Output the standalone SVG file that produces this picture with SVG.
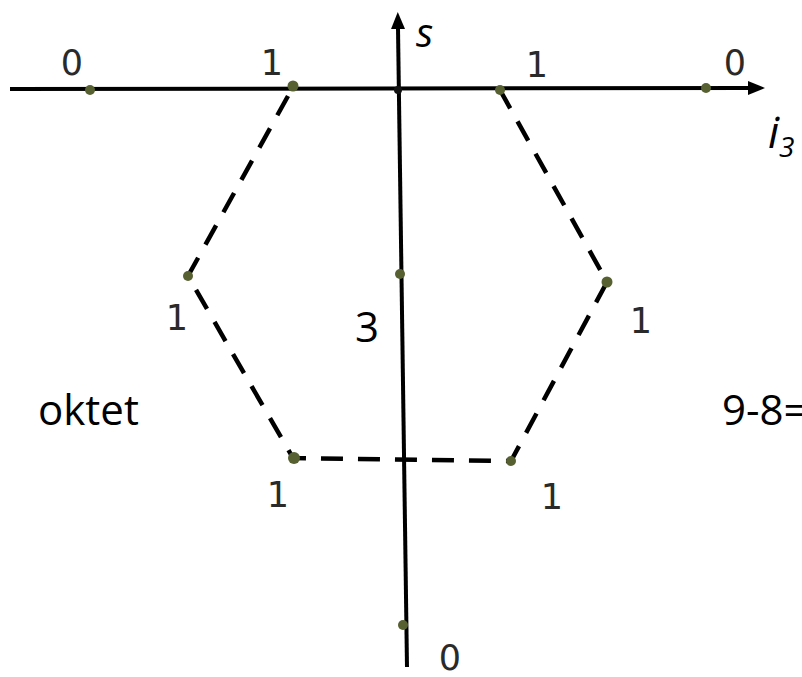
<svg xmlns="http://www.w3.org/2000/svg" width="802" height="677" viewBox="0 0 802 677">
<style>
.axis{stroke:#000;stroke-width:4;fill:none}
.dash{stroke:#000;stroke-width:4.5;fill:none;stroke-dasharray:22 15}
.dot{fill:#566030}
.lbl{font-family:"DejaVu Sans","Open Sans",sans-serif;font-size:35px;fill:#2a2a2a;text-anchor:middle}
.big{font-family:"Open Sans","DejaVu Sans",sans-serif;font-size:42px;fill:#000}
.it{font-family:"Open Sans","DejaVu Sans",sans-serif;font-style:italic;fill:#000}
</style>
<defs>
<marker id="arr" markerWidth="18" markerHeight="16" refX="1" refY="8" orient="auto" markerUnits="userSpaceOnUse">
<path d="M0,1 L17,8 L0,15 Z" fill="#000"/>
</marker>
</defs>
<rect width="802" height="677" fill="#fff"/>
<g id="connectors">
<line class="axis" x1="10" y1="89" x2="749" y2="88" marker-end="url(#arr)"/>
<line class="axis" x1="407" y1="667" x2="398" y2="28" marker-end="url(#arr)"/>
<path class="dash" d="M288,96 L188,276 L293,458 L511,461 L607,282 L500,90"/>
</g>
<g id="points">
<circle class="dot" cx="90" cy="90" r="5"/>
<circle class="dot" cx="293" cy="86" r="5.5"/>
<circle class="dot" cx="500" cy="90" r="5"/>
<circle class="dot" cx="706" cy="88" r="5"/>
<circle cx="398" cy="90" r="4" fill="#111"/>
<circle class="dot" cx="400" cy="274" r="5"/>
<circle class="dot" cx="188" cy="276" r="5"/>
<circle class="dot" cx="607" cy="282" r="5.5"/>
<circle class="dot" cx="294" cy="458" r="6"/>
<circle class="dot" cx="511" cy="461" r="5"/>
<circle class="dot" cx="403" cy="625" r="5"/>
</g>
<g id="labels">
<text class="lbl" x="72" y="75">0</text>
<text class="lbl" x="272" y="75">1</text>
<text class="lbl" x="537" y="77">1</text>
<text class="lbl" x="735" y="75">0</text>
<text class="lbl" x="177" y="330">1</text>
<text class="lbl" x="641" y="333">1</text>
<text class="lbl" x="278" y="507">1</text>
<text class="lbl" x="552" y="509">1</text>
<text class="lbl" x="450" y="670">0</text>
<text class="big" x="367" y="342" text-anchor="middle">3</text>
<text class="big" x="38" y="425">oktet</text>
<text class="big" x="722" y="425">9-8=</text>
<text class="it" x="416" y="47" font-size="40">s</text>
<text class="it" x="768" y="148" font-size="44">i<tspan font-size="28" dy="9">3</tspan></text>
</g>
</svg>
